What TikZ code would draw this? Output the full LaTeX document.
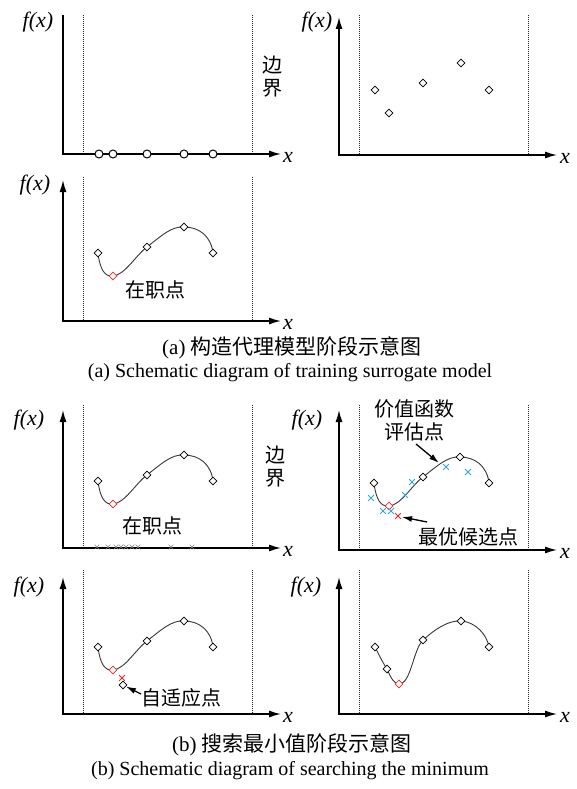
\documentclass[tikz,border=0pt]{standalone}
\usepackage{fontspec}
\setmainfont{Liberation Serif}
\newfontfamily\cjk{Noto Sans CJK SC}
\usetikzlibrary{arrows.meta,shapes.geometric,shapes.misc}
\definecolor{ptblue}{RGB}{50,165,225}
\definecolor{ptred}{RGB}{230,40,40}
\definecolor{curvegray}{RGB}{55,55,55}
\tikzset{
  axisarrow/.style={line width=1.4pt,-{Latex[length=12pt,width=7pt]}},
  axisplain/.style={line width=1.4pt},
  boundline/.style={line width=1pt,dash pattern=on 1pt off 1pt,black!85},
  dia/.style={diamond,draw,fill=white,line width=0.8pt,inner sep=0pt,minimum size=8pt},
  rdia/.style={dia,draw=ptred},
  ring/.style={circle,draw,fill=white,line width=1pt,inner sep=0pt,minimum size=8pt},
  bx/.style={cross out,draw=ptblue,line width=0.8pt,inner sep=0pt,minimum size=5pt},
  rx/.style={cross out,draw=ptred,line width=0.8pt,inner sep=0pt,minimum size=5pt},
  gx/.style={cross out,draw=gray,line width=0.6pt,inner sep=0pt,minimum size=4pt},
  fxlab/.style={font=\fontsize{22}{22}\selectfont\itshape,inner sep=0pt},
  cjklab/.style={font=\fontsize{20}{23}\selectfont\cjk,inner sep=0pt,align=center},
  capcn/.style={font=\fontsize{21}{23}\selectfont,inner sep=0pt},
  capen/.style={font=\fontsize{20}{22}\selectfont,inner sep=0pt},
  fitcurve/.style={line width=0.9pt,curvegray},
  pointer/.style={line width=1.3pt,-{Latex[length=10pt,width=6pt]}},
}
% frame: #1 axis top, #2 dotted top, #3 bottom, #4 y-axis style
\newcommand\drawframe[4]{%
  \draw[boundline] (83,#2) -- (83,#3);
  \draw[boundline] (252,#2) -- (252,#3);
  \draw[#4] (63,#3) -- (63,#1);
  \draw[axisarrow] (62.3,#3) -- (281,#3);
}
% base curve with diamonds, #1 = name prefix
\newcommand\basecurve[1]{%
  \draw[fitcurve] (98,253) .. controls (100,270) and (105,277) .. (113,276)
    .. controls (125,275) and (136,255) .. (147,247)
    .. controls (160,237) and (171,226) .. (184,227)
    .. controls (199,227) and (211,236) .. (213,253);
  \node[dia]  (#1a) at (98,253) {};
  \node[rdia] (#1b) at (113,276) {};
  \node[dia]  (#1c) at (147,247) {};
  \node[dia]  (#1d) at (184,227) {};
  \node[dia]  (#1e) at (213,253) {};
}
\begin{document}
\begin{tikzpicture}[x=1pt,y=-1pt]
\useasboundingbox (0,0) rectangle (577,789);
% ---------- Panel 1 ----------
\drawframe{15}{15}{154}{axisplain}
\foreach \xx [count=\i] in {99,113,147,184,213}
  \node[ring] (p1r\i) at (\xx,154) {};
\node[fxlab] (p1fx) at (38,22) {f(x)};
\node[fxlab] (p1x) at (288,157) {x};
\node[cjklab] (p1bd) at (272,77) {边\\界};
% ---------- Panel 2 ----------
\begin{scope}[shift={(276,0)}]
\drawframe{17}{15}{155}{axisarrow}
\node[dia] (p2a) at (99,90) {};
\node[dia] (p2b) at (113,113) {};
\node[dia] (p2c) at (147,83) {};
\node[dia] (p2d) at (185,63) {};
\node[dia] (p2e) at (213,90) {};
\node[fxlab] (p2fx) at (41,22) {f(x)};
\node[fxlab] (p2x) at (289,158) {x};
\end{scope}
% ---------- Panel 3 ----------
\drawframe{180}{177}{321}{axisarrow}
\basecurve{p3}
\node[fxlab] (p3fx) at (35,185) {f(x)};
\node[fxlab] (p3x) at (288,324) {x};
\node[cjklab] (p3lab) at (155,290) {在职点};
% ---------- Caption (a) ----------
\node[capcn] (capa1) at (292,348) {(a) {\cjk 构造代理模型阶段示意图}};
\node[capen] (capa2) at (290,373) {(a) Schematic diagram of training surrogate model};
% ---------- Panel 4 ----------
\drawframe{410}{405}{548}{axisarrow}
\begin{scope}[shift={(0,228)}]
\basecurve{p4}
\end{scope}
\foreach \xx [count=\i] in {97,108,116,121,126,132,138,171,192}
  \node[gx] (p4g\i) at (\xx,547) {};
\node[fxlab] (p4fx) at (29,420) {f(x)};
\node[fxlab] (p4x) at (288,551) {x};
\node[cjklab] (p4lab) at (152,526) {在职点};
\node[cjklab] (p4bd) at (275,467) {边\\界};
% ---------- Panel 5 ----------
\begin{scope}[shift={(276,0)}]
\drawframe{410}{405}{550}{axisarrow}
\node[fxlab] (p5fx) at (31,420) {f(x)};
\node[fxlab] (p5x) at (289,553) {x};
\end{scope}
\begin{scope}[shift={(276,230)}]
\basecurve{p5}
\end{scope}
\foreach \xx/\yy [count=\i] in {371/498,383/511,391/511,405/495,412/482,446/467,468/472}
  \node[bx] (p5b\i) at (\xx,\yy) {};
\node[rx] (p5r) at (398,516) {};
\node[cjklab] (p5t1) at (414,420) {价值函数\\评估点};
\coordinate (p5t1tail) at (416,444);
\coordinate (p5t1head) at (439,463);
\draw[pointer] (p5t1tail) -- (p5t1head);
\node[cjklab] (p5t2) at (468,537) {最优候选点};
\coordinate (p5t2tail) at (427,522);
\coordinate (p5t2head) at (402,517);
\draw[pointer] (p5t2tail) -- (p5t2head);
% ---------- Panel 6 ----------
\drawframe{577}{570}{714}{axisarrow}
\begin{scope}[shift={(0,394)}]
\basecurve{p6}
\end{scope}
\node[rx] (p6r) at (122,678) {};
\node[dia] (p6n) at (123,685) {};
\node[cjklab] (p6lab) at (181,698) {自适应点};
\coordinate (p6tail) at (141,694);
\draw[pointer] (p6tail) -- (p6n);
\node[fxlab] (p6fx) at (29,587) {f(x)};
\node[fxlab] (p6x) at (288,717) {x};
% ---------- Panel 7 ----------
\begin{scope}[shift={(276,0)}]
\drawframe{577}{570}{714}{axisarrow}
\draw[fitcurve] (99,647) .. controls (103,655) and (107,663) .. (111,669)
  .. controls (115,678) and (118,684) .. (123,684)
  .. controls (135,684) and (137,650) .. (147,640)
  .. controls (158,630) and (172,620) .. (185,621)
  .. controls (200,622) and (211,635) .. (213,647);
\node[dia]  (p7a) at (99,647) {};
\node[dia]  (p7b) at (111,669) {};
\node[rdia] (p7c) at (123,684) {};
\node[dia]  (p7d) at (147,640) {};
\node[dia]  (p7e) at (185,621) {};
\node[dia]  (p7f) at (213,647) {};
\node[fxlab] (p7fx) at (30,587) {f(x)};
\node[fxlab] (p7x) at (289,717) {x};
\end{scope}
% ---------- Caption (b) ----------
\node[capcn] (capb1) at (292,745) {(b) {\cjk 搜索最小值阶段示意图}};
\node[capen] (capb2) at (290,771) {(b) Schematic diagram of searching the minimum};
\end{tikzpicture}
\end{document}
